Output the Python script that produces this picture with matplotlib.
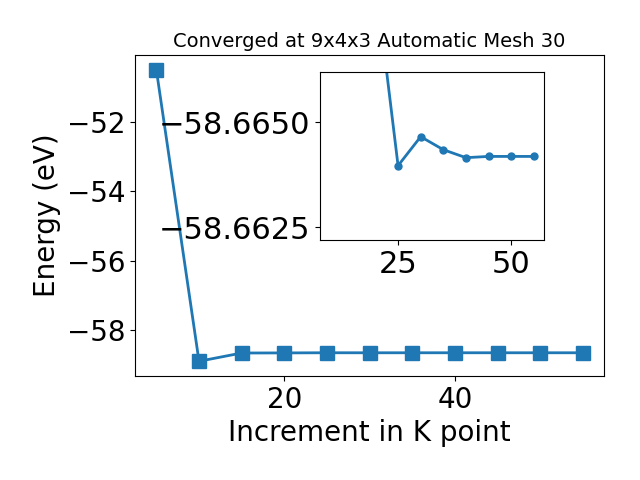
import matplotlib
matplotlib.use('Agg')
import matplotlib.pyplot as plt
import numpy as np

# k-point convergence data
kpoints = np.array([5, 10, 15, 20, 25, 30, 35, 40, 45, 50, 55])
energy = np.array([-50.48, -58.91, -58.6712, -58.6684, -58.66397, -58.66466,
                   -58.66435, -58.66416, -58.66419, -58.66419, -58.66419])

plt.rcParams['xtick.labelsize'] = 20
plt.rcParams['ytick.labelsize'] = 20

fig = plt.figure(figsize=(6.4, 4.8), dpi=100)
ax = fig.add_subplot(111)
ax.plot(kpoints, energy, 's-', color='#1f77b4', markersize=10, lw=2)
ax.set_xlabel('Increment in K point', fontsize=20)
ax.set_ylabel('Energy (eV)', fontsize=20)
ax.set_title('Converged at 9x4x3 Automatic Mesh 30', fontsize=14)
fig.subplots_adjust(left=0.211, right=0.944, top=0.885, bottom=0.217)

# zoomed inset
ins = fig.add_axes([0.5, 0.5, 0.35, 0.35])
ins.plot(kpoints[1:], energy[1:], 'o-', color='#1f77b4', markersize=5, lw=2)
ins.set_ylim(-58.6622, -58.6662)
ins.set_yticks([-58.665, -58.6625])
ins.set_xticks([25, 50])
ins.ticklabel_format(axis='y', useOffset=False)
ins.tick_params(labelsize=22)

fig.savefig('out.png', dpi=100)
